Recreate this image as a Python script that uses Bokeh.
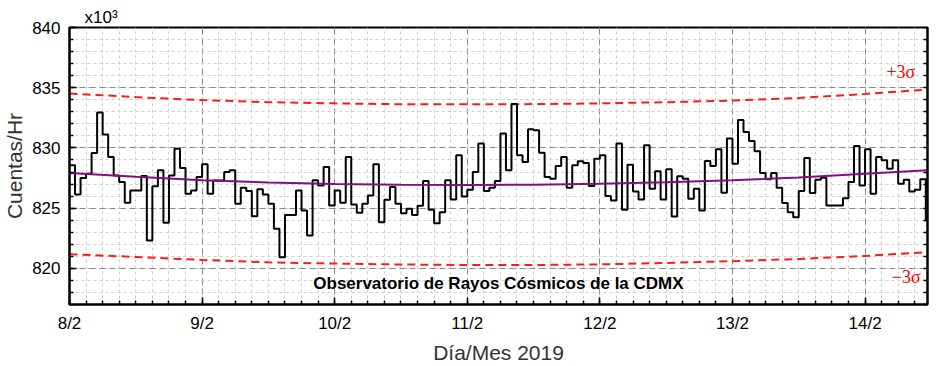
import numpy as np
from bokeh.plotting import figure
from bokeh.models import Range1d, SingleIntervalTicker, FixedTicker, LinearAxis, Label
from bokeh.embed import file_html
from bokeh.resources import INLINE

# Hourly cosmic-ray counts (x10^3 counts/hr), starting 8/2 00:00
counts = [
    828.56, 826.14, 827.50, 827.86, 829.58, 832.94, 831.11, 829.25, 827.72, 827.17,
    825.44, 826.47, 826.47, 827.67, 822.31, 826.81, 828.14, 823.78, 827.72, 829.94,
    828.33, 826.19, 826.47, 827.58, 828.64, 826.19, 827.30, 827.30, 828.00, 828.14,
    825.36, 826.69, 826.42, 824.33, 826.56, 826.14, 825.36, 823.28, 820.92, 824.44,
    824.44, 826.47, 824.81, 822.72, 827.31, 826.89, 828.42, 825.22, 826.47, 825.44,
    829.25, 825.31, 824.61, 825.36, 826.06, 828.64, 823.83, 825.69, 826.75, 825.36,
    824.58, 824.94, 824.44, 825.19, 827.25, 824.86, 823.75, 824.67, 827.31, 825.72,
    829.39, 825.97, 826.53, 828.00, 830.36, 826.42, 826.69, 827.25, 831.19, 828.14,
    833.64, 829.39, 828.83, 831.56, 831.47, 829.61, 827.58, 827.44, 828.50, 829.25,
    826.69, 828.56, 828.89, 828.75, 826.83, 829.11, 829.39, 826.00, 825.64, 830.36,
    824.86, 828.61, 826.39, 825.72, 830.22, 826.61, 828.06, 825.72, 828.22, 824.31,
    827.64, 827.44, 825.78, 826.61, 824.81, 828.92, 828.50, 829.89, 826.28, 830.78,
    828.69, 832.31, 831.33, 830.58, 829.72, 827.92, 827.39, 827.92, 826.69, 825.42,
    824.67, 824.25, 826.42, 829.17, 826.25, 827.36, 827.53, 825.22, 825.22, 825.22,
    825.83, 827.17, 830.17, 826.89, 829.89, 826.19, 829.25, 828.97, 828.28, 828.97,
    827.03, 827.36, 826.39, 826.53, 827.39, 823.97,
]

# Trend and +/-3 sigma band, read at half-day points
band_x = [8.0, 8.5, 9.0, 9.5, 10.0, 10.5, 11.0, 11.5, 12.0, 12.5, 13.0, 13.5, 14.0, 14.47]
trend_y = [827.92, 827.60, 827.32, 827.13, 827.00, 826.95, 826.93, 826.95, 827.02, 827.15,
           827.32, 827.55, 827.85, 828.14]
upper_y = [834.52, 834.22, 833.97, 833.80, 833.70, 833.63, 833.62, 833.64, 833.70, 833.80,
           833.93, 834.15, 834.48, 834.85]
lower_y = [821.17, 820.95, 820.70, 820.50, 820.40, 820.32, 820.28, 820.28, 820.33, 820.45,
           820.60, 820.78, 821.03, 821.35]

day_ticks = [8, 9, 10, 11, 12, 13, 14]
day_labels = ["8/2", "9/2", "10/2", "11/2", "12/2", "13/2", "14/2"]

hours = np.arange(len(counts))
x = 8 + hours / 24.0
x_step = np.append(x, x[-1] + 1 / 24.0)
y_step = np.append(counts, counts[-1])

p = figure(width=940, height=366, output_backend="svg", toolbar_location=None,
           x_range=Range1d(8, 14.471), y_range=Range1d(817, 840),
           min_border_left=69, min_border_right=13, min_border_top=27, min_border_bottom=62,
           background_fill_color="white", border_fill_color="white")

p.title.text = "x10³"
p.title.align = "left"
p.title.offset = 15
p.title.standoff = 1
p.title.text_font = "Liberation Sans"
p.title.text_font_size = "17px"
p.title.text_font_style = "normal"
p.title.text_color = "black"

p.outline_line_color = "black"
p.outline_line_width = 2
p.outline_line_alpha = 1

xt = SingleIntervalTicker(interval=1, num_minor_ticks=8)
yt = SingleIntervalTicker(interval=5, num_minor_ticks=5)
p.xaxis.ticker = xt
p.yaxis.ticker = yt
p.xgrid.ticker = xt
p.ygrid.ticker = yt

for g in (p.xgrid, p.ygrid):
    g.grid_line_color = "#8a8a8a"
    g.grid_line_dash = "6 4"
    g.grid_line_width = 1
    g.minor_grid_line_color = "#cfcfcf"
    g.minor_grid_line_dash = "3 3"
    g.minor_grid_line_width = 1

for ax in (p.xaxis[0], p.yaxis[0]):
    ax.axis_line_width = 2
    ax.axis_line_color = "black"
    ax.major_tick_in = 7
    ax.major_tick_out = 0
    ax.minor_tick_in = 4
    ax.minor_tick_out = 0
    ax.major_tick_line_width = 1.5
    ax.minor_tick_line_width = 1.5
    ax.major_label_text_font = "Liberation Sans"
    ax.major_label_text_font_size = "17px"
    ax.major_label_text_color = "black"
    ax.axis_label_text_font = "Liberation Sans"
    ax.axis_label_text_font_size = "21px"
    ax.axis_label_text_font_style = "normal"
    ax.axis_label_text_color = "#333333"

p.xaxis.major_label_overrides = {d: l for d, l in zip(day_ticks, day_labels)}
p.xaxis.axis_label = "Día/Mes 2019"
p.xaxis.major_label_standoff = 9
p.xaxis.axis_label_standoff = 5
p.yaxis.axis_label = "Cuentas/Hr"
p.yaxis.major_label_standoff = 9
p.yaxis.axis_label_standoff = 3

rt = FixedTicker(ticks=[], minor_ticks=list(range(817, 841)))
ra = LinearAxis(ticker=rt, major_label_standoff=0,
                major_tick_in=7, major_tick_out=0, minor_tick_in=4, minor_tick_out=0,
                axis_line_width=2, minor_tick_line_width=1.5)
p.add_layout(ra, "right")

p.line(band_x, upper_y, line_color="#ff1a1a", line_width=2, line_dash="8 5")
p.line(band_x, lower_y, line_color="#ff1a1a", line_width=2, line_dash="8 5")
p.step(x_step, y_step, mode="after", line_color="black", line_width=2)
p.line(band_x, trend_y, line_color="#80107f", line_width=2)

p.add_layout(Label(x=14.27, y=836.27, text="+3σ", text_align="center", text_baseline="middle",
                   text_font="Liberation Serif", text_font_size="18px", text_color="#ff0000"))
p.add_layout(Label(x=14.31, y=819.25, text="−3σ", text_align="center", text_baseline="middle",
                   text_font="Liberation Serif", text_font_size="18px", text_color="#ff0000"))
p.add_layout(Label(x=11.235, y=818.72, text="Observatorio de Rayos Cósmicos de la CDMX",
                   text_align="center", text_baseline="middle", text_font="Liberation Sans",
                   text_font_style="bold", text_font_size="17px", text_color="black"))

open("out.html", "w").write(file_html(p, INLINE))
